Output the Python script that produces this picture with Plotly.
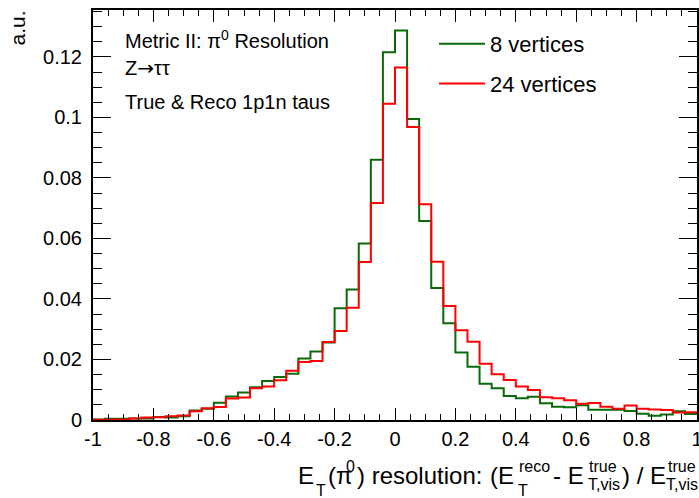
import plotly.graph_objects as go

# ---------------- data ----------------
bin_edges = [round(-1 + 0.04 * i, 2) for i in range(51)]

vals_8_vertices = [
    0.0002, 0.0004, 0.0004, 0.0005, 0.0005, 0.0010, 0.0008, 0.0012, 0.0031, 0.0037,
    0.0057, 0.0078, 0.0091, 0.0108, 0.0129, 0.0142, 0.0153, 0.0203, 0.0226, 0.0256,
    0.0369, 0.0431, 0.0583, 0.0860, 0.1215, 0.1287, 0.0995, 0.0658, 0.0436, 0.0320,
    0.0223, 0.0176, 0.0120, 0.0105, 0.0079, 0.0072, 0.0077, 0.0055, 0.0044, 0.0042,
    0.0049, 0.0034, 0.0034, 0.0034, 0.0030, 0.0021, 0.0014, 0.0018, 0.0029, 0.0020,
]
vals_24_vertices = [
    0.0001, 0.0001, 0.0002, 0.0005, 0.0008, 0.0009, 0.0012, 0.0015, 0.0029, 0.0039,
    0.0043, 0.0071, 0.0074, 0.0105, 0.0111, 0.0131, 0.0163, 0.0192, 0.0195, 0.0258,
    0.0294, 0.0371, 0.0522, 0.0717, 0.1045, 0.1165, 0.0968, 0.0713, 0.0523, 0.0377,
    0.0297, 0.0259, 0.0186, 0.0151, 0.0132, 0.0111, 0.0099, 0.0075, 0.0072, 0.0065,
    0.0054, 0.0056, 0.0044, 0.0037, 0.0048, 0.0037, 0.0035, 0.0033, 0.0025, 0.0026,
]
series_names = ["8 vertices", "24 vertices"]

x_tick_vals = [-1, -0.8, -0.6, -0.4, -0.2, 0, 0.2, 0.4, 0.6, 0.8, 1]
x_tick_labels = ["-1", "-0.8", "-0.6", "-0.4", "-0.2", "0", "0.2", "0.4", "0.6", "0.8", "1"]
y_tick_vals = [0, 0.02, 0.04, 0.06, 0.08, 0.10, 0.12]
y_tick_labels = ["0", "0.02", "0.04", "0.06", "0.08", "0.1", "0.12"]

# ---------------- figure ----------------
FONT = "Liberation Sans, Arial, Helvetica, sans-serif"
W, H = 699, 498
ML, MR, MT, MB = 93, 2, 10, 78
PW, PH = W - ML - MR, H - MT - MB


def px(xp):
    return (xp - ML) / PW


def py(yp):
    return (H - MB - yp) / PH


fig = go.Figure()
for name, vals, col in [(series_names[0], vals_8_vertices, "#0a690a"),
                        (series_names[1], vals_24_vertices, "#ff0000")]:
    fig.add_trace(go.Scatter(
        x=bin_edges, y=list(vals) + [vals[-1]], mode="lines",
        line=dict(shape="hv", color=col, width=2),
        name=name, legendgroup=name,
    ))

axis_common = dict(
    showgrid=False, zeroline=False, showline=True, linecolor="black", linewidth=2,
    mirror="allticks", ticks="inside", tickcolor="black", tickwidth=1,
    tickfont=dict(family=FONT, size=20, color="black"), automargin=False,
    ticklabeloverflow="allow",
)
fig.update_xaxes(
    range=[-1, 1], tickvals=x_tick_vals, ticktext=x_tick_labels, ticklen=12,
    minor=dict(dtick=0.05, tick0=-1, ticks="inside", ticklen=6, tickcolor="black", tickwidth=1),
    **axis_common,
)
fig.update_yaxes(
    range=[0, 0.1355], tickvals=y_tick_vals, ticktext=y_tick_labels, ticklen=18,
    minor=dict(dtick=0.005, tick0=0, ticks="inside", ticklen=9, tickcolor="black", tickwidth=1),
    ticklabelstandoff=5,
    **axis_common,
)

annots = []


def txt(t, xl, base, size, anchor="left"):
    annots.append(dict(
        text=t, x=px(xl), y=py(base - 0.33 * size), xref="paper", yref="paper",
        xanchor=anchor, yanchor="middle", showarrow=False,
        font=dict(family=FONT, size=size, color="black"), borderpad=0,
    ))


# info texts
txt("Metric II: π<sup>0</sup> Resolution", 124, 46, 20)
txt("Z<span style='font-family:DejaVu Sans'>→</span>ττ", 124, 75, 20)
txt("True &amp; Reco 1p1n taus", 124, 109, 20)

# x-axis title, built from pieces so the scripts stack like the original
txt("E", 297, 483, 24)
txt("T", 315, 496, 16)
txt("(π", 327, 483, 24)
txt("0", 345, 472, 16)
txt(") resolution:", 356, 483, 24)
txt("(E", 489, 483, 24)
txt("reco", 518, 472, 16)
txt("T", 517, 496, 16)
txt("- E", 552, 483, 24)
txt("true", 588, 472, 16)
txt("T,vis", 587, 490, 16)
txt(") / E", 621, 483, 24)
txt("true", 667, 472, 16)
txt("T,vis", 665, 490, 16)

# y-axis title
annots.append(dict(
    text="a.u.", x=px(17), y=py(9), xref="paper", yref="paper", xanchor="center",
    yanchor="top", textangle=-90, showarrow=False,
    font=dict(family=FONT, size=21, color="black"),
))

fig.update_layout(
    width=W, height=H, margin=dict(l=ML, r=MR, t=MT, b=MB, pad=0, autoexpand=False),
    paper_bgcolor="white", plot_bgcolor="white",
    annotations=annots,
    showlegend=True,
    legend=dict(
        x=px(434), y=py(23), xanchor="left", yanchor="top",
        bgcolor="rgba(0,0,0,0)", borderwidth=0, tracegroupgap=8,
        font=dict(family=FONT, size=22, color="black"), itemwidth=46,
    ),
)

fig.write_html("out.html", config={"displayModeBar": False},
               post_script="document.body.style.margin='0px';")
